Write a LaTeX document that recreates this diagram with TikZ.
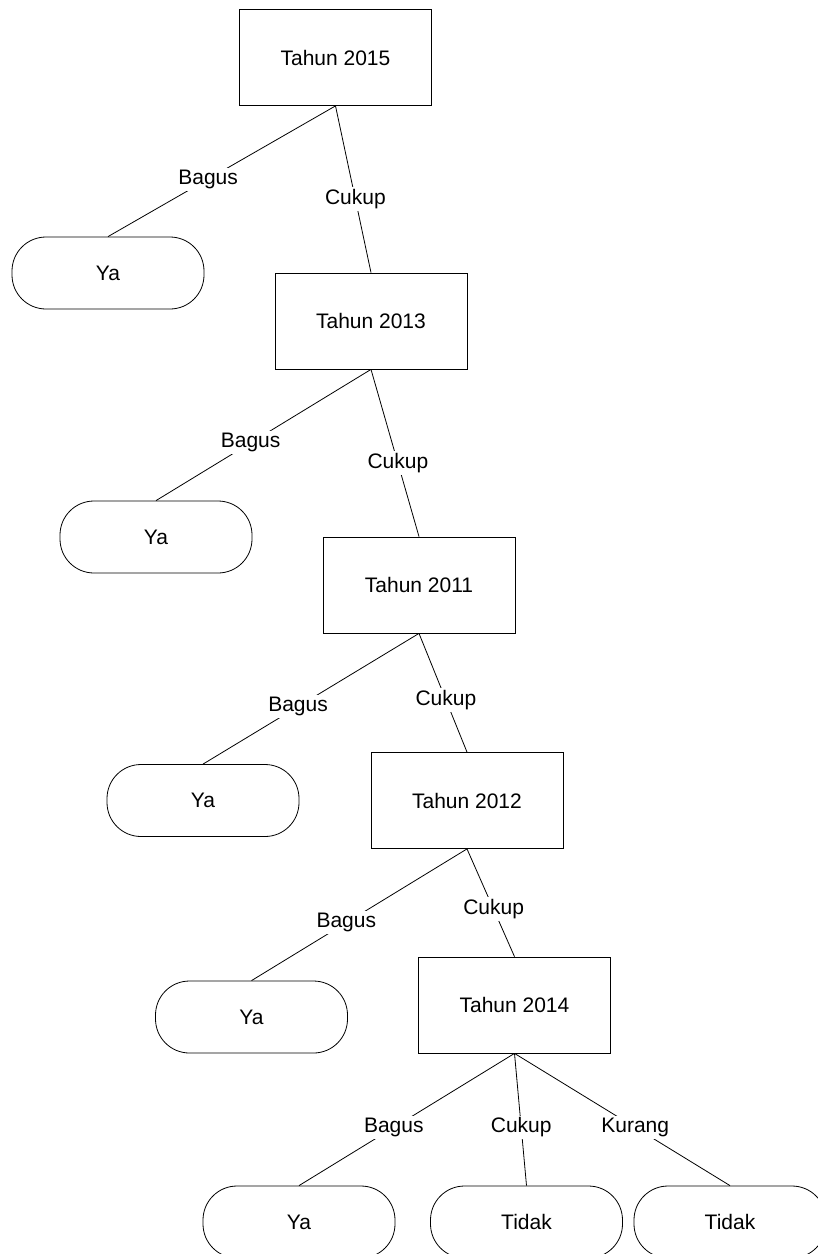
\documentclass[tikz,border=0pt]{standalone}
\usepackage{fontspec}
\setmainfont{Liberation Sans}
\begin{document}
\begin{tikzpicture}[x=1pt,y=-1pt,
  every node/.style={font=\fontsize{21}{25}\selectfont},
  yearbox/.style={draw, line width=0.8pt, minimum width=192pt, minimum height=96pt, inner sep=0pt},
  leafbox/.style={draw, line width=0.8pt, rounded corners=34pt, minimum width=192pt, minimum height=72pt, inner sep=0pt},
  edgelab/.style={fill=white, inner sep=2pt, pos=0.56},
  conn/.style={line width=0.8pt}]
\useasboundingbox (0,0) rectangle (818,1254);
\node[yearbox] (t2015) at (335.5,57.5) {Tahun 2015};
\node[yearbox] (t2013) at (371,321) {Tahun 2013};
\node[yearbox] (t2011) at (419,585) {Tahun 2011};
\node[yearbox] (t2012) at (467,800.5) {Tahun 2012};
\node[yearbox] (t2014) at (514.5,1005) {Tahun 2014};
\node[leafbox] (ya1) at (108,273) {Ya};
\node[leafbox] (ya2) at (156,537) {Ya};
\node[leafbox] (ya3) at (203,800.5) {Ya};
\node[leafbox] (ya4) at (251.5,1017) {Ya};
\node[leafbox] (ya5) at (299,1222) {Ya};
\node[leafbox] (td1) at (526.5,1222) {Tidak};
\node[leafbox] (td2) at (730,1222) {Tidak};
\draw[conn] (t2015.south) -- node[edgelab]{Bagus} (ya1.north);
\draw[conn] (t2015.south) -- node[edgelab]{Cukup} (t2013.north);
\draw[conn] (t2013.south) -- node[edgelab]{Bagus} (ya2.north);
\draw[conn] (t2013.south) -- node[edgelab]{Cukup} (t2011.north);
\draw[conn] (t2011.south) -- node[edgelab]{Bagus} (ya3.north);
\draw[conn] (t2011.south) -- node[edgelab]{Cukup} (t2012.north);
\draw[conn] (t2012.south) -- node[edgelab]{Bagus} (ya4.north);
\draw[conn] (t2012.south) -- node[edgelab]{Cukup} (t2014.north);
\draw[conn] (t2014.south) -- node[edgelab]{Bagus} (ya5.north);
\draw[conn] (t2014.south) -- node[edgelab]{Cukup} (td1.north);
\draw[conn] (t2014.south) -- node[edgelab]{Kurang} (td2.north);
\end{tikzpicture}
\end{document}
